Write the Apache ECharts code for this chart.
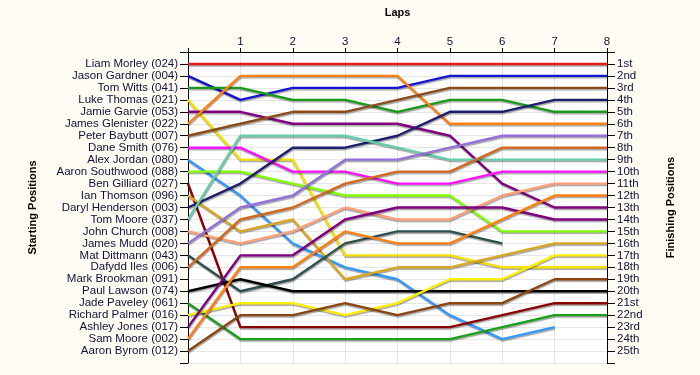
<!DOCTYPE html>
<html>
<head>
<meta charset="utf-8">
<script src="https://cdn.jsdelivr.net/npm/echarts@6/dist/echarts.min.js"></script>
<style>
html,body{margin:0;padding:0;background:#fffdf3;}
#chart{width:700px;height:375px;}
</style>
</head>
<body>
<div id="chart"></div>
<script>
// ---- data ----
const laps = [0, 1, 2, 3, 4, 5, 6, 7, 8];
const lapLabels = ['', '1', '2', '3', '4', '5', '6', '7', '8'];
const startNames = [
  'Liam Morley (024)', 'Jason Gardner (004)', 'Tom Witts (041)', 'Luke Thomas (021)',
  'Jamie Garvie (053)', 'James Glenister (022)', 'Peter Baybutt (007)', 'Dane Smith (076)',
  'Alex Jordan (080)', 'Aaron Southwood (088)', 'Ben Gilliard (027)', 'Ian Thomson (096)',
  'Daryl Henderson (003)', 'Tom Moore (037)', 'John Church (008)', 'James Mudd (020)',
  'Mat Dittmann (043)', 'Dafydd Iles (006)', 'Mark Brookman (091)', 'Paul Lawson (074)',
  'Jade Paveley (061)', 'Richard Palmer (016)', 'Ashley Jones (017)', 'Sam Moore (002)',
  'Aaron Byrom (012)'
];
const finishLabels = ['1st','2nd','3rd','4th','5th','6th','7th','8th','9th','10th','11th','12th',
  '13th','14th','15th','16th','17th','18th','19th','20th','21st','22nd','23rd','24th','25th'];

// positions at laps 0..8 (null = not running)
const liamMorley     = [1, 1, 1, 1, 1, 1, 1, 1, 1];
const jasonGardner   = [2, 4, 3, 3, 3, 2, 2, 2, 2];
const tomWitts       = [3, 3, 4, 4, 5, 4, 4, 5, 5];
const lukeThomas     = [4, 9, 9, 17, 17, 17, 18, 18, 18];
const jamieGarvie    = [5, 5, 6, 6, 6, 7, 11, 13, 13];
const jamesGlenister = [6, 2, 2, 2, 2, 6, 6, 6, 6];
const peterBaybutt   = [7, 6, 5, 5, 4, 3, 3, 3, 3];
const daneSmith      = [8, 8, 10, 10, 11, 11, 10, 10, 10];
const alexJordan     = [9, 12, 16, 18, 19, 22, 24, 23, null];
const aaronSouthwood = [10, 10, 11, 12, 12, 12, 15, 15, 15];
const benGilliard    = [11, 23, 23, 23, 23, 23, 22, 21, 21];
const ianThomson     = [12, 15, 14, 19, 18, 18, 17, 16, 16];
const darylHenderson = [13, 11, 8, 8, 7, 5, 5, 4, 4];
const tomMoore       = [14, 7, 7, 7, 8, 9, 9, 9, 9];
const johnChurch     = [15, 16, 15, 13, 14, 14, 12, 11, 11];
const jamesMudd      = [16, 13, 12, 9, 9, 8, 7, 7, 7];
const matDittmann    = [17, 20, 19, 16, 15, 15, 16, null, null];
const dafyddIles     = [18, 14, 13, 11, 10, 10, 8, 8, 8];
const paulLawson     = [20, 19, 20, 20, 20, 20, 20, 20, 20];
const jadePaveley    = [21, 24, 24, 24, 24, 24, 23, 22, 22];
const richardPalmer  = [22, 21, 21, 22, 21, 19, 19, 17, 17];
const ashleyJones    = [23, 17, 17, 14, 13, 13, 13, 14, 14];
const samMoore       = [24, 18, 18, 15, 16, 16, 14, 12, 12];
const aaronByrom     = [25, 22, 22, 21, 22, 21, 21, 19, 19];

const drivers = [
  ['Liam Morley (024)', liamMorley, '#e81818'],
  ['Jason Gardner (004)', jasonGardner, '#1414d4'],
  ['Tom Witts (041)', tomWitts, '#1a9a1a'],
  ['Luke Thomas (021)', lukeThomas, '#f5e000'],
  ['Jamie Garvie (053)', jamieGarvie, '#800080'],
  ['James Glenister (022)', jamesGlenister, '#ff8010'],
  ['Peter Baybutt (007)', peterBaybutt, '#8b4c1a'],
  ['Dane Smith (076)', daneSmith, '#ff10ff'],
  ['Alex Jordan (080)', alexJordan, '#3399ff'],
  ['Aaron Southwood (088)', aaronSouthwood, '#80ff00'],
  ['Ben Gilliard (027)', benGilliard, '#8b0000'],
  ['Ian Thomson (096)', ianThomson, '#daa520'],
  ['Daryl Henderson (003)', darylHenderson, '#1e1e6e'],
  ['Tom Moore (037)', tomMoore, '#66cdaa'],
  ['John Church (008)', johnChurch, '#ffa07a'],
  ['James Mudd (020)', jamesMudd, '#9370db'],
  ['Mat Dittmann (043)', matDittmann, '#2f4f4f'],
  ['Dafydd Iles (006)', dafyddIles, '#d2691e'],
  ['Paul Lawson (074)', paulLawson, '#000000'],
  ['Jade Paveley (061)', jadePaveley, '#18a018'],
  ['Richard Palmer (016)', richardPalmer, '#ffee00'],
  ['Ashley Jones (017)', ashleyJones, '#800080'],
  ['Sam Moore (002)', samMoore, '#ff8010'],
  ['Aaron Byrom (012)', aaronByrom, '#8b4513']
];

const FONT = 'Liberation Sans';
const TXT = '#10103a';
const FS = 11.5;

const chart = echarts.init(document.getElementById('chart'), null, {renderer: 'canvas'});

const series = drivers.map(d => ({
  name: d[0],
  type: 'line',
  data: laps.map((l, i) => [l, d[1][i]]),
  showSymbol: false,
  symbol: 'none',
  connectNulls: false,
  animation: false,
  lineStyle: {
    width: 2.4,
    color: d[2],
    shadowColor: 'rgba(0,0,0,0.35)',
    shadowOffsetY: 1.5,
    shadowOffsetX: 0.5,
    shadowBlur: 1
  },
  itemStyle: {color: d[2]}
}));

const yCommon = {
  type: 'value',
  min: 0,
  max: 26,
  interval: 1,
  inverse: true,
  axisLine: {show: true, onZero: false, lineStyle: {color: '#000', width: 1}},
  axisTick: {show: true, length: 8, lineStyle: {color: '#000'}},
  splitLine: {show: true, lineStyle: {color: '#e6e6e6', width: 1}},
  nameLocation: 'middle',
  nameTextStyle: {fontFamily: FONT, fontSize: 11, fontWeight: 'bold', color: '#000'}
};

chart.setOption({
  backgroundColor: '#fffdf3',
  animation: false,
  grid: {left: 188, right: 93, top: 52, bottom: 12, show: true, backgroundColor: '#ffffff', borderWidth: 0},
  xAxis: {
    type: 'value',
    position: 'top',
    min: 0,
    max: 8,
    interval: 1,
    name: 'Laps',
    nameLocation: 'middle',
    nameGap: 34,
    nameTextStyle: {fontFamily: FONT, fontSize: 11, fontWeight: 'bold', color: '#000'},
    axisLine: {show: true, onZero: false, lineStyle: {color: '#000', width: 1}},
    axisTick: {show: true, length: 4, lineStyle: {color: '#000'}},
    axisLabel: {
      fontFamily: FONT, fontSize: FS, color: TXT, margin: 4,
      formatter: v => lapLabels[v] !== undefined ? lapLabels[v] : ''
    },
    splitLine: {show: true, lineStyle: {color: '#e6e6e6', width: 1}}
  },
  yAxis: [
    Object.assign({}, yCommon, {
      position: 'left',
      name: 'Starting Positions',
      nameGap: 150,
      axisLabel: {
        fontFamily: FONT, fontSize: FS, color: TXT, margin: 10,
        formatter: v => (v >= 1 && v <= startNames.length) ? startNames[v - 1] : ''
      }
    }),
    Object.assign({}, yCommon, {
      position: 'right',
      name: 'Finishing Positions',
      nameGap: 58,
      splitLine: {show: false},
      axisLabel: {
        fontFamily: FONT, fontSize: FS, color: TXT, margin: 10,
        formatter: v => (v >= 1 && v <= finishLabels.length) ? finishLabels[v - 1] : ''
      }
    })
  ],
  series: series
});
</script>
</body>
</html>
